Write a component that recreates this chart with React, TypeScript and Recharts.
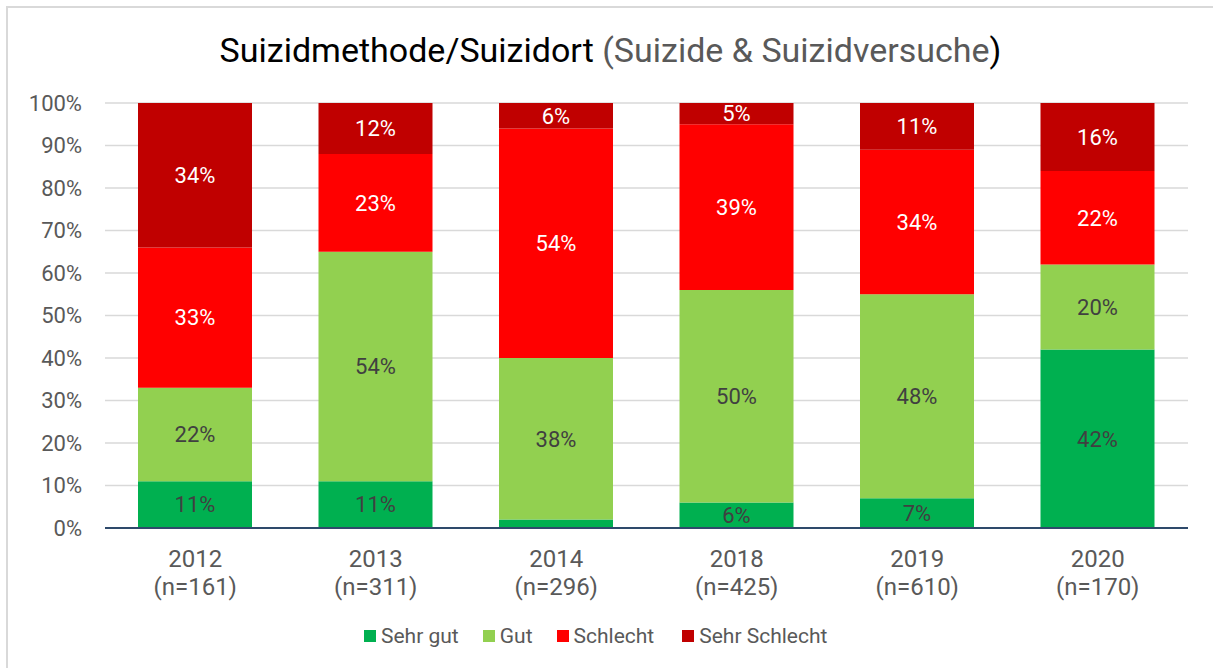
import React from "react";
import { BarChart, Bar, XAxis, YAxis, CartesianGrid, LabelList } from "recharts";

const years = ["2012", "2013", "2014", "2018", "2019", "2020"];
const sampleSizes = ["(n=161)", "(n=311)", "(n=296)", "(n=425)", "(n=610)", "(n=170)"];
const sehrGut = [11, 11, 2, 6, 7, 42];
const gut = [22, 54, 38, 50, 48, 20];
const schlecht = [33, 23, 54, 39, 34, 22];
const sehrSchlecht = [34, 12, 6, 5, 11, 16];
const yTicks = [0, 10, 20, 30, 40, 50, 60, 70, 80, 90, 100];

const series = [
  { key: "sehrGut", name: "Sehr gut", color: "#00b050", label: "#404040", gap: 24 },
  { key: "gut", name: "Gut", color: "#92d050", label: "#404040", gap: 24 },
  { key: "schlecht", name: "Schlecht", color: "#ff0000", label: "#ffffff", gap: 28 },
  { key: "sehrSchlecht", name: "Sehr Schlecht", color: "#c00000", label: "#ffffff", gap: 0 },
];

const data = years.map((y, i) => ({
  year: y,
  n: sampleSizes[i],
  sehrGut: sehrGut[i],
  gut: gut[i],
  schlecht: schlecht[i],
  sehrSchlecht: sehrSchlecht[i],
}));

const FONT = "Roboto, 'Liberation Sans', sans-serif";

const XTick = (props: any) => {
  const { x, y, payload, index } = props;
  return (
    <g>
      <text x={x} y={y + 31} textAnchor="middle" fill="#595959" fontSize={24} fontFamily={FONT}>
        {payload.value}
      </text>
      <text x={x} y={y + 59} textAnchor="middle" fill="#595959" fontSize={24} fontFamily={FONT}>
        {sampleSizes[index]}
      </text>
    </g>
  );
};

export default function App() {
  return (
    <div style={{ position: "absolute", left: 0, top: 0, width: 1213, height: 668, background: "#fff", overflow: "hidden" }}>
      <div
        style={{
          position: "absolute",
          left: 6,
          top: 6,
          width: 1300,
          height: 800,
          border: "2px solid #d9d9d9",
          boxSizing: "border-box",
        }}
      />
      <div
        style={{
          position: "absolute",
          left: 0,
          top: 28,
          width: 1221,
          textAlign: "center",
          fontFamily: FONT,
          fontSize: 34,
          lineHeight: "44px",
          color: "#000",
        }}
      >
        Suizidmethode/Suizidort <span style={{ color: "#595959" }}>(Suizide &amp; Suizidversuche</span>)
      </div>
      <div style={{ position: "absolute", left: 0, top: 0 }}>
        <BarChart width={1213} height={668} data={data} margin={{ top: 103, right: 25, bottom: 0, left: 0 }}>
          <CartesianGrid vertical={false} stroke="#d9d9d9" strokeWidth={1.5} />
          <XAxis
            dataKey="year"
            tick={<XTick />}
            tickLine={false}
            axisLine={{ stroke: "#2e4a6b", strokeWidth: 2 }}
            interval={0}
            height={140}
          />
          <YAxis
            domain={[0, 100]}
            ticks={yTicks}
            tickFormatter={(v: number) => `${v}%`}
            tickLine={false}
            axisLine={false}
            tickSize={0}
            tickMargin={23}
            width={105}
            tick={{ fill: "#595959", fontSize: 22, fontFamily: FONT }}
            interval={0}
          />
          {series.map((s) => (
            <Bar key={s.key} dataKey={s.key} name={s.name} stackId="a" fill={s.color} barSize={114} isAnimationActive={false}>
              <LabelList
                dataKey={s.key}
                position="center"
                fill={s.label}
                fontSize={22}
                fontFamily={FONT}
                formatter={(v: any) => (v >= 4 ? `${v}%` : "")}
              />
            </Bar>
          ))}
        </BarChart>
      </div>
      <div
        style={{
          position: "absolute",
          left: 364,
          top: 622,
          display: "flex",
          fontFamily: FONT,
          fontSize: 21,
          lineHeight: "28px",
          color: "#595959",
          whiteSpace: "nowrap",
        }}
      >
        {series.map((s) => (
          <div key={s.key} style={{ display: "flex", alignItems: "center", marginRight: s.gap }}>
            <span style={{ display: "inline-block", width: 12, height: 12, background: s.color, marginRight: 5 }} />
            <span>{s.name}</span>
          </div>
        ))}
      </div>
    </div>
  );
}
